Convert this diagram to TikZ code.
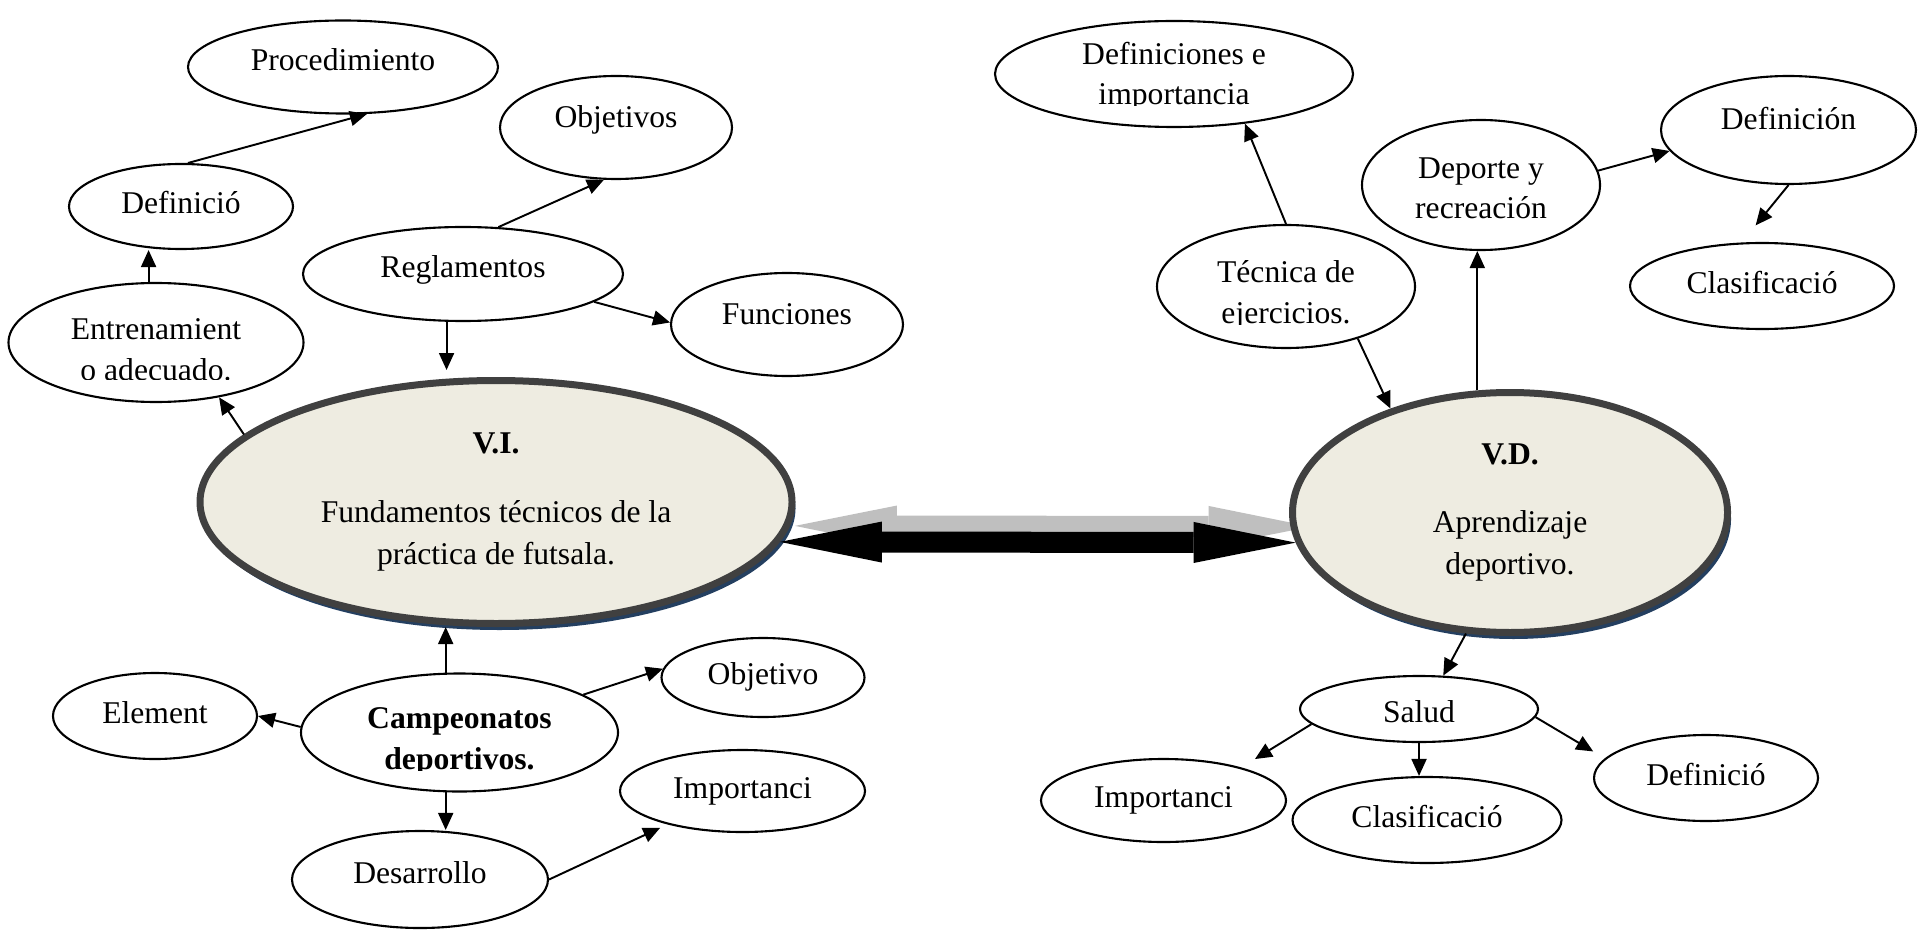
\documentclass[tikz,border=0pt]{standalone}
\usepackage{fontspec}
\setmainfont{Liberation Serif}
\usepackage{xcolor}
\usepackage{trimclip}
\usepackage{tikz}
\usetikzlibrary{shapes,arrows.meta,shadows,backgrounds}

\definecolor{vfill}{HTML}{EEECE1}
\definecolor{vborder}{HTML}{404040}
\definecolor{vshade}{HTML}{243F60}
\definecolor{bondshade}{HTML}{BFBFBF}

% second lines cut off at the bottom of the text box
\newcommand{\cutline}[1]{\clipbox{0pt 1.6pt 0pt 0pt}{#1}}
\newcommand{\cutflat}[1]{\clipbox{0pt 0.4pt 0pt 0pt}{#1}}

\begin{document}
\begin{tikzpicture}[font=\fontsize{9}{11.5}\selectfont]
    % Define styles
    \tikzstyle{idea} = [ellipse, draw=black, line width=0.6pt, fill=white, inner sep=0pt, text height=0.22cm, text depth=0.08cm]
    \tikzstyle{ideas} = [ellipse, draw=black, line width=0.6pt, fill=white, inner sep=0pt, align=center]
    \tikzstyle{lowered} = [text height=21.3pt]
    \tikzstyle{hightext} = [text depth=0.22cm]
    \tikzstyle{midtext} = [text depth=0.15cm]
    \tikzstyle{lowtext} = [text height=0.30cm, text depth=0.04cm]
    \tikzstyle{core} = [ellipse, draw=vborder, line width=0.07cm, fill=vfill, inner sep=0pt, align=center, font=\fontsize{9}{12}\selectfont, drop shadow={shadow xshift=0.035cm, shadow yshift=-0.065cm, fill=vshade, opacity=1}]
    \tikzstyle{arrow} = [line width=0.55pt, -{Triangle[length=1.7mm, width=1.5mm]}]
    \tikzstyle{bond} = [line width=0.21cm, {Triangle[length=10.2mm, width=4.1mm, line width=0pt]}-{Triangle[length=10.2mm, width=4.1mm, line width=0pt]}]

    \useasboundingbox (0,0) rectangle (19.18,9.29);

    % Variables
    \node [core, minimum width=5.92cm, minimum height=2.43cm] (vi) at (4.96,4.27) {\textbf{V.I.}\\[7.5pt] Fundamentos técnicos de la\\ práctica de futsala.};
    \node [core, minimum width=4.35cm, minimum height=2.40cm] (vd) at (15.10,4.165) {\textbf{V.D.}\\[7.5pt] Aprendizaje\\ deportivo.};

    % Upper left
    \node [idea, midtext, minimum width=3.10cm, minimum height=0.93cm] (proc) at (3.43,8.62) {Procedimiento};
    \node [idea, minimum width=2.24cm, minimum height=0.85cm] (defl) at (1.81,7.225) {Definició};
    \node [ideas, lowered, minimum width=2.95cm, minimum height=1.19cm] (entr) at (1.56,5.865) {Entrenamient\\\cutflat{o adecuado.}};
    \node [idea, hightext, minimum width=2.32cm, minimum height=1.03cm] (objs) at (6.16,8.015) {Objetivos};
    \node [idea, midtext, minimum width=3.20cm, minimum height=0.94cm] (regl) at (4.63,6.55) {Reglamentos};
    \node [idea, hightext, minimum width=2.32cm, minimum height=1.03cm] (func) at (7.87,6.045) {Funciones};

    % Lower left
    \node [ideas, lowered, minimum width=3.17cm, minimum height=1.18cm] (camp) at (4.595,1.965) {\textbf{Campeonatos}\\\cutline{\textbf{deportivos.}}};
    \node [idea, minimum width=2.04cm, minimum height=0.86cm] (elem) at (1.55,2.13) {Element};
    \node [idea, minimum width=2.03cm, minimum height=0.79cm] (objb) at (7.63,2.515) {Objetivo};
    \node [idea, minimum width=2.45cm, minimum height=0.82cm] (impl) at (7.425,1.38) {Importanci};
    \node [idea, midtext, minimum width=2.56cm, minimum height=0.97cm] (desa) at (4.20,0.495) {Desarrollo};

    % Upper right
    \node [ideas, minimum width=3.58cm, minimum height=1.06cm] (defs) at (11.74,8.55) {Definiciones e\\\cutline{importancia}};
    \node [ideas, lowered, minimum width=2.58cm, minimum height=1.23cm] (tec) at (12.86,6.425) {Técnica de\\\cutline{ejercicios.}};
    \node [ideas, lowered, text height=19.3pt, minimum width=2.38cm, minimum height=1.30cm] (dep) at (14.81,7.44) {Deporte y\\recreación};
    \node [idea, hightext, minimum width=2.55cm, minimum height=1.08cm] (defn) at (17.885,7.99) {Definición};
    \node [idea, minimum width=2.64cm, minimum height=0.86cm] (clast) at (17.62,6.43) {Clasificació};

    % Lower right
    \node [idea, lowtext, minimum width=2.38cm, minimum height=0.66cm] (salud) at (14.19,2.20) {Salud};
    \node [idea, minimum width=2.45cm, minimum height=0.83cm] (impr) at (11.635,1.285) {Importanci};
    \node [idea, minimum width=2.69cm, minimum height=0.86cm] (clasb) at (14.27,1.09) {Clasificació};
    \node [idea, minimum width=2.24cm, minimum height=0.86cm] (defr) at (17.06,1.51) {Definició};

    % Link between the variables
    \begin{scope}[on background layer]
        \draw [bond, bondshade, transform canvas={shift={(0.15,0.16)}}] (vi.-8.6) -- (vd.188.8);
    \end{scope}
    \draw [bond] (vi.-8.6) -- (vd.188.8);

    % Arrows
    \draw [arrow] (defl.81) -- (proc.-63);
    \draw [arrow] (entr.97) -- (entr.97 |- defl.south);
    \draw [arrow] (vi.165) -- (entr.-41);
    \draw [arrow, shorten >=0.7mm] (regl.-109) -- (regl.-109 |- vi.north);
    \draw [arrow] (regl.53) -- (objs.-103);
    \draw [arrow] (regl.-12) -- (func.179);
    \draw [arrow] (camp.103) -- (camp.103 |- vi.south);
    \draw [arrow] (camp.178) -- (elem.east);
    \draw [arrow] (camp.17) -- (objb.175);
    \draw [arrow] (camp.-103) -- (camp.-103 |- desa.north);
    \draw [arrow, shorten >=0.8mm] (desa.east) -- (impl.-156);
    \draw [arrow] (tec.north) -- (defs.-35);
    \draw [arrow] (tec.-36) -- (vd.139);
    \draw [arrow] (vd.105) -- (vd.105 |- dep.south);
    \draw [arrow] (dep.7) -- (defn.-170);
    \draw [arrow, shorten >=2.2mm] (defn.south) -- (clast.115);
    \draw [arrow] (vd.-110) -- (salud.54);
    \draw [arrow, shorten >=1.6mm] (salud.-172) -- (impr.23);
    \draw [arrow] (salud.south) -- (salud.south |- clasb.north);
    \draw [arrow, shorten >=1.35mm] (salud.-4) -- (defr.169);
\end{tikzpicture}
\end{document}
